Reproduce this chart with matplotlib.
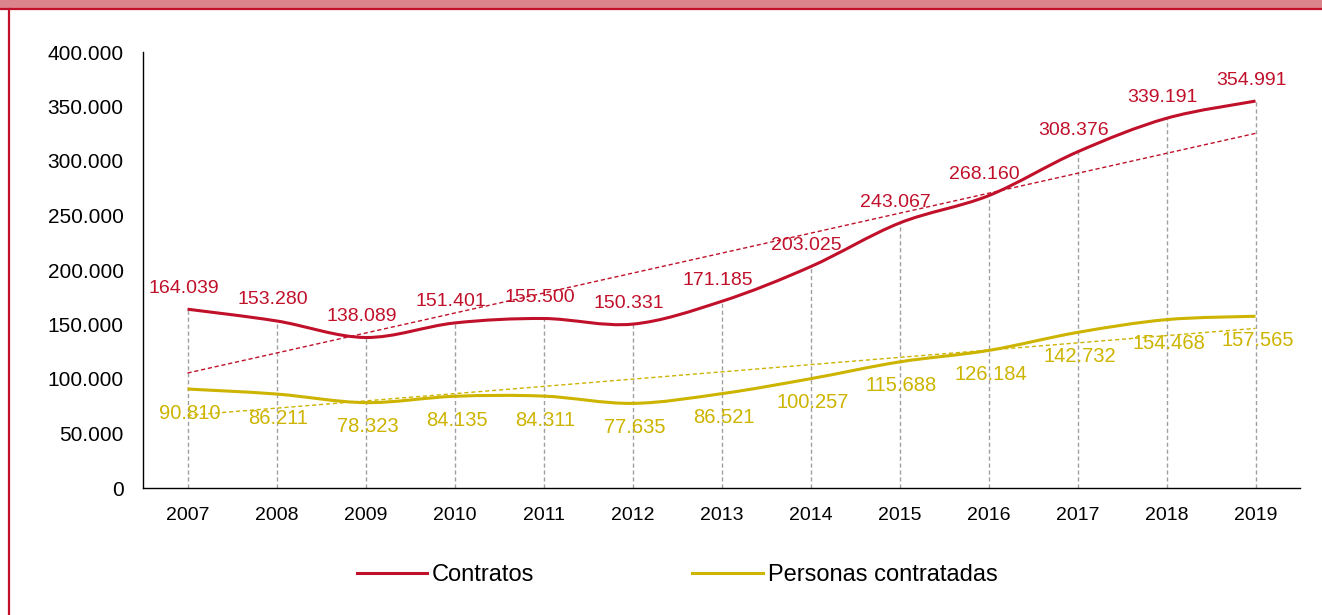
import numpy as np
import matplotlib
matplotlib.use("Agg")
import matplotlib.pyplot as plt
from matplotlib.path import Path
from matplotlib.patches import PathPatch, Rectangle
from matplotlib.lines import Line2D

plt.rcParams['font.family'] = ['Liberation Sans', 'DejaVu Sans']

years = ['2007', '2008', '2009', '2010', '2011', '2012', '2013',
         '2014', '2015', '2016', '2017', '2018', '2019']
contratos = [164039, 153280, 138089, 151401, 155500, 150331, 171185,
             203025, 243067, 268160, 308376, 339191, 354991]
personas = [90810, 86211, 78323, 84135, 84311, 77635, 86521,
            100257, 115688, 126184, 142732, 154468, 157565]
yticks = [0, 50000, 100000, 150000, 200000, 250000, 300000, 350000, 400000]

RED = '#C0102A'
GOLD = '#CDB400'
W, H = 1322, 615

fig = plt.figure(figsize=(W / 100, H / 100), dpi=100)
ax = fig.add_axes([143 / W, 1 - 488 / H, (1300 - 143) / W, (488 - 52) / H])


def fmt(v):
    return f"{v:,}".replace(',', '.')


def smooth_path(xs, ys):
    pts = np.column_stack([xs, ys]).astype(float)
    n = len(pts)
    verts = [pts[0]]
    codes = [Path.MOVETO]
    for i in range(n - 1):
        p0 = pts[i - 1] if i > 0 else pts[i]
        p1 = pts[i]
        p2 = pts[i + 1]
        p3 = pts[i + 2] if i + 2 < n else pts[i + 1]
        c1 = p1 + (p2 - p0) / 6.0
        c2 = p2 - (p3 - p1) / 6.0
        verts += [c1, c2, p2]
        codes += [Path.CURVE4] * 3
    return Path(verts, codes)


x = np.arange(len(years))

# drop lines
for xi, c in zip(x, contratos):
    ax.plot([xi, xi], [0, c], color='#A0A0A0', lw=1, ls=(0, (3, 2)), zorder=1)

# trend lines
for series, col in [(contratos, RED), (personas, GOLD)]:
    k, b = np.polyfit(x, series, 1)
    ax.plot([x[0], x[-1]], [k * x[0] + b, k * x[-1] + b], color=col,
            lw=1, ls=(0, (3, 2)), zorder=2)

# smoothed series
for series, col in [(contratos, RED), (personas, GOLD)]:
    ax.add_patch(PathPatch(smooth_path(x, series), facecolor='none',
                           edgecolor=col, lw=2.2, zorder=3,
                           capstyle='butt'))

# data labels
for xi, c in zip(x, contratos):
    ax.annotate(fmt(c), (xi, c), xytext=(-4, 21), textcoords='offset pixels',
                ha='center', va='center', color=RED, fontsize=14, zorder=4)
for xi, p in zip(x, personas):
    ax.annotate(fmt(p), (xi, p), xytext=(2, -24), textcoords='offset pixels',
                ha='center', va='center', color=GOLD, fontsize=14.5, zorder=4)

ax.set_xlim(-0.5, len(years) - 0.5)
ax.set_ylim(0, 400000)
ax.set_yticks(yticks)
ax.set_yticklabels([fmt(v) for v in yticks], fontsize=15)
ax.set_xticks(x)
ax.set_xticklabels(years, fontsize=14)
ax.tick_params(axis='both', length=0)
ax.tick_params(axis='x', pad=14)
ax.tick_params(axis='y', pad=14)
for s in ['top', 'right']:
    ax.spines[s].set_visible(False)
ax.spines['left'].set_color('#000000')
ax.spines['bottom'].set_color('#000000')
ax.spines['left'].set_linewidth(1)
ax.spines['bottom'].set_linewidth(1)

# legend
handles = [Line2D([], [], color=RED, lw=2.2), Line2D([], [], color=GOLD, lw=2.2)]
fig.legend(handles, ['Contratos', 'Personas contratadas'], loc='center',
           bbox_to_anchor=(677 / W, 1 - 575 / H), ncol=2, frameon=False,
           fontsize=17, handlelength=2.97, handletextpad=0.22, columnspacing=6.7)

# frame decoration
fig.add_artist(Rectangle((0, 1 - 8.5 / H), 1, 8.5 / H, transform=fig.transFigure,
                         facecolor='#DC848C', edgecolor='none'))
fig.add_artist(Line2D([0, 1], [1 - 9.3 / H, 1 - 9.3 / H], transform=fig.transFigure,
                      color=RED, lw=1.6))
fig.add_artist(Line2D([9 / W, 9 / W], [0, 1 - 9 / H], transform=fig.transFigure,
                      color=RED, lw=1.6))

fig.savefig('out.png', dpi=100)
